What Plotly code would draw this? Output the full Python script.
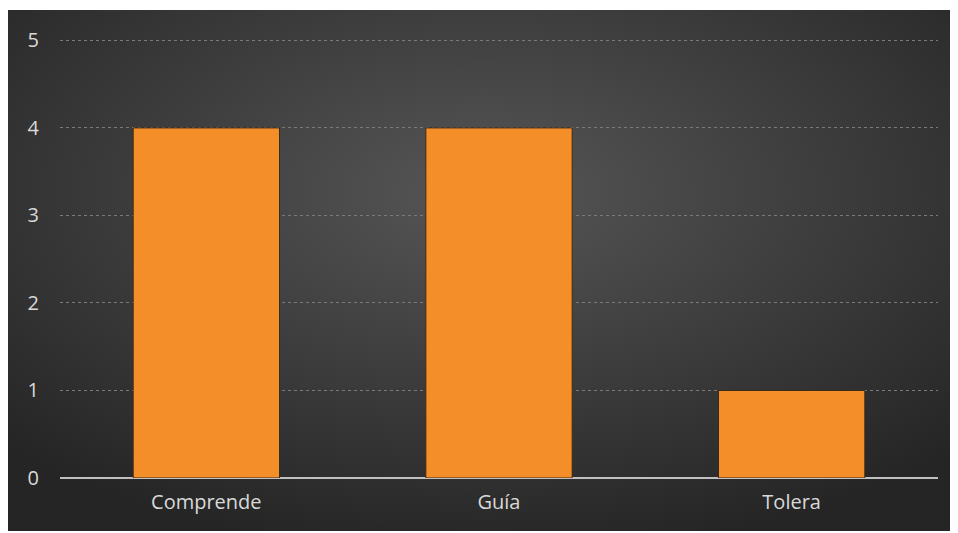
import base64
import plotly.graph_objects as go

categories = ["Comprende", "Guía", "Tolera"]
values = [4, 4, 1]
y_ticks = [0, 1, 2, 3, 4, 5]

svg = ('<svg xmlns="http://www.w3.org/2000/svg" width="951" height="521" preserveAspectRatio="none">'
       '<defs><radialGradient id="g" cx="50%" cy="35%" r="70%">'
       '<stop offset="0%" stop-color="#565656"/><stop offset="100%" stop-color="#252525"/>'
       '</radialGradient></defs><rect width="951" height="521" fill="url(#g)"/></svg>')
bg = "data:image/svg+xml;base64," + base64.b64encode(svg.encode()).decode()

fig = go.Figure(go.Bar(
    x=categories, y=values, width=0.5,
    marker=dict(color="#F48E28", line=dict(color="#3a2a1a", width=1)),
))

W, H = 950, 525
L, R, T, B = 52, 20, 28, 55
pw, ph = W - L - R, H - T - B
x0 = (0 - L) / pw
x1 = (W - L) / pw
y1 = (H - B - 2) / ph
y0 = (H - B - 523) / ph

fig.add_layout_image(dict(source=bg, xref="paper", yref="paper", x=x0, y=y1,
                          sizex=x1 - x0, sizey=y1 - y0, sizing="stretch",
                          xanchor="left", yanchor="top", layer="below"))

fig.update_layout(
    width=W, height=H,
    margin=dict(l=L, r=R, t=T, b=B),
    paper_bgcolor="white", plot_bgcolor="rgba(0,0,0,0)",
    font=dict(family="Open Sans", size=20, color="#d9d9d9"),
    showlegend=False,
    xaxis=dict(showgrid=False, showline=False, ticks="", tickfont=dict(size=20),
               ticklabelstandoff=10),
    yaxis=dict(range=[0, 5.05], tickvals=y_ticks, showgrid=True, gridcolor="#7a7a7a",
               griddash="dot", gridwidth=1, zeroline=True, zerolinecolor="#c0c0c0",
               zerolinewidth=2, ticks="", ticklabelstandoff=20, tickfont=dict(size=20)),
)
fig.write_html("out.html")
